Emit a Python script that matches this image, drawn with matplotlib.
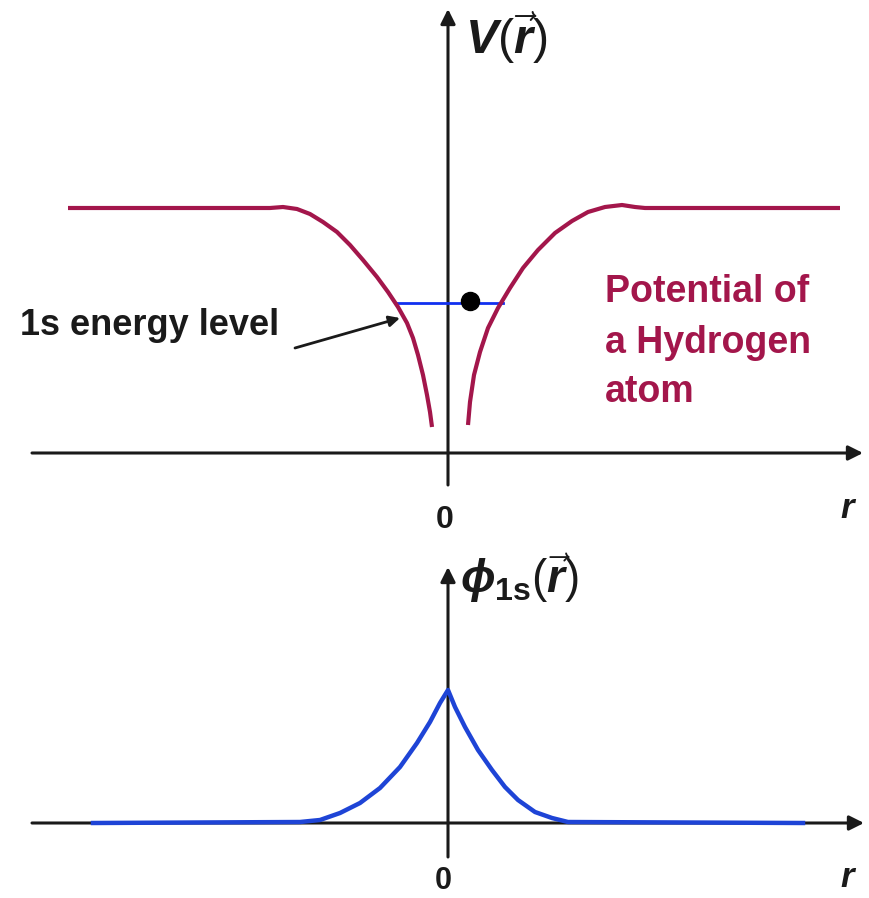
import matplotlib
matplotlib.use("Agg")
import matplotlib.pyplot as plt

plt.rcParams["font.family"] = ["Liberation Sans", "DejaVu Sans"]
plt.rcParams["mathtext.fontset"] = "custom"
plt.rcParams["mathtext.rm"] = "Liberation Sans"
plt.rcParams["mathtext.it"] = "Liberation Sans:italic:bold"
plt.rcParams["mathtext.bf"] = "Liberation Sans:bold"

# potential V(r) (arbitrary units, r=0 at the nucleus)
v_left_r = [-3.80, -1.78, -1.65, -1.51, -1.38, -1.25, -1.11, -0.98, -0.85, -0.71,
            -0.60, -0.50, -0.41, -0.35, -0.30, -0.25, -0.21, -0.18, -0.16]
v_left = [2.45, 2.45, 2.46, 2.44, 2.39, 2.31, 2.21, 2.08, 1.93, 1.76,
          1.61, 1.46, 1.30, 1.15, 0.98, 0.78, 0.58, 0.41, 0.26]
v_right_r = [0.20, 0.22, 0.26, 0.32, 0.40, 0.50, 0.62, 0.75, 0.90, 1.07,
             1.24, 1.40, 1.57, 1.74, 1.87, 1.97, 3.92]
v_right = [0.28, 0.51, 0.78, 1.01, 1.25, 1.45, 1.65, 1.85, 2.03, 2.20,
           2.32, 2.41, 2.46, 2.48, 2.46, 2.45, 2.45]

# 1s energy level and electron
level_r = [-0.51, 0.55]
level_v = 1.50
electron_r, electron_v = 0.22, 1.52

# 1s wavefunction phi(r)
phi_r = [-3.55, -1.48, -1.28, -1.08, -0.88, -0.68, -0.48, -0.31, -0.18, -0.08, 0.0,
         0.07, 0.17, 0.30, 0.44, 0.57, 0.70, 0.87, 1.04, 1.20, 3.55]
phi = [0.0, 0.01, 0.03, 0.10, 0.20, 0.35, 0.56, 0.80, 1.01, 1.20, 1.33,
       1.16, 0.96, 0.73, 0.53, 0.36, 0.23, 0.11, 0.05, 0.01, 0.0]

RED = "#A3164B"
AXC = "#1a1a1a"

fig = plt.figure(figsize=(8.7, 8.98), dpi=100)
ax_top = fig.add_axes([0, 358 / 898, 1, 540 / 898])
ax_bot = fig.add_axes([0, 0, 1, 358 / 898])
ax_top.set_xlim(-4.48, 4.22)
ax_top.set_ylim(-0.87, 4.53)
ax_bot.set_xlim(-4.48, 4.22)
ax_bot.set_ylim(-0.75, 2.83)
for ax in (ax_top, ax_bot):
    ax.axis("off")

arrow_kw = dict(arrowstyle="-|>", color=AXC, lw=2.2, mutation_scale=22, shrinkA=0, shrinkB=0)


def draw_axes(ax, x0, x1, y0, y1):
    ax.annotate("", xy=(x1, 0), xytext=(x0, 0), arrowprops=arrow_kw, zorder=1)
    ax.annotate("", xy=(0, y1), xytext=(0, y0), arrowprops=arrow_kw, zorder=1)


draw_axes(ax_top, -4.16, 4.15, -0.32, 4.44)
draw_axes(ax_bot, -4.16, 4.16, -0.34, 2.56)

# top panel
line_kw = dict(color=RED, lw=3.0, solid_capstyle="butt", solid_joinstyle="round", zorder=3)
ax_top.plot(v_left_r, v_left, **line_kw)
ax_top.plot(v_right_r, v_right, **line_kw)
ax_top.plot(level_r, [level_v, level_v], color="#1030F0", lw=2.0, zorder=2)
ax_top.plot([electron_r], [electron_v], "o", color="black", ms=13, zorder=4)

ax_top.annotate("", xy=(-0.48, 1.35), xytext=(-1.53, 1.05),
                arrowprops=dict(arrowstyle="-|>", color=AXC, lw=2.0, mutation_scale=16,
                                shrinkA=0, shrinkB=0))
ax_top.text(-4.28, 1.18, "1s energy level", fontsize=26, fontweight="bold",
            color=AXC, va="baseline", ha="left")
for txt, y in zip(["Potential of", "a Hydrogen", "atom"], [1.51, 1.00, 0.51]):
    ax_top.text(1.57, y, txt, fontsize=27, fontweight="bold", color=RED,
                va="baseline", ha="left")

ax_top.text(0.17, 3.99, r"$V(\vec{r})$", fontsize=35, color=AXC, va="baseline", ha="left")
ax_top.text(-0.03, -0.75, "0", fontsize=23, fontweight="bold", color=AXC, va="baseline", ha="center")
ax_top.text(3.99, -0.65, "r", fontsize=25, fontweight="bold", fontstyle="italic",
            color=AXC, va="baseline", ha="center")

# bottom panel
ax_bot.plot(phi_r, phi, color="#1E44D6", lw=3.2, solid_joinstyle="round", zorder=3)
ax_bot.text(0.12, 2.30, r"$\phi_{\mathbf{1s}}(\vec{r})$", fontsize=33, color=AXC,
            va="baseline", ha="left")
ax_bot.text(-0.05, -0.66, "0", fontsize=22, fontweight="bold", color=AXC, va="baseline", ha="center")
ax_bot.text(3.99, -0.64, "r", fontsize=25, fontweight="bold", fontstyle="italic",
            color=AXC, va="baseline", ha="center")

fig.savefig("out.png", dpi=100, facecolor="white")
